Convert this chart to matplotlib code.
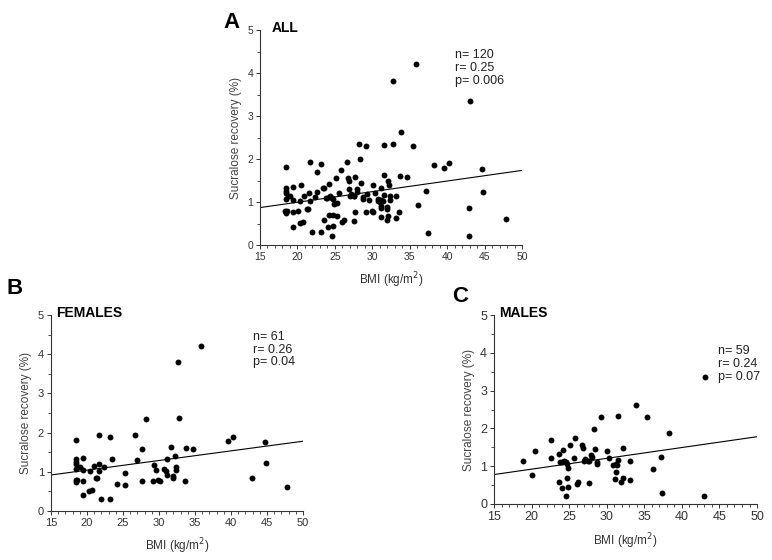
import matplotlib
matplotlib.use("Agg")
import matplotlib.pyplot as plt
from matplotlib.ticker import MultipleLocator
import numpy as np

plt.rcParams["font.family"] = ["Liberation Sans", "DejaVu Sans"]

# Femmes: BMI (kg/m2) et récupération du sucralose (%)
bmi_f = [18.5, 18.5, 18.5, 18.5, 18.5, 18.4, 18.5, 18.6, 19.0, 19.4,
         19.4, 19.4, 19.4, 20.4, 20.3, 20.7, 20.9, 21.3, 21.4, 21.6,
         21.7, 21.7, 21.9, 22.3, 23.2, 23.2, 23.4, 24.2, 25.3, 25.3,
         26.6, 26.9, 27.7, 27.7, 28.2, 29.2, 29.3, 29.6, 29.9, 30.1,
         30.7, 31.0, 31.1, 31.1, 31.6, 31.9, 32.0, 32.2, 32.4, 32.3,
         32.8, 33.7, 33.6, 34.7, 39.6, 40.3, 42.9, 44.7, 44.8, 47.8,
         32.7, 35.9]
suc_f = [1.81, 1.32, 1.26, 1.20, 1.07, 0.79, 0.75, 0.80, 1.13, 1.05,
         1.34, 0.77, 0.41, 1.03, 0.52, 0.54, 1.15, 0.84, 0.83, 1.20,
         1.94, 1.02, 0.31, 1.11, 1.89, 0.31, 1.32, 0.70, 0.97, 0.67,
         1.93, 1.30, 1.59, 0.76, 2.34, 0.76, 1.18, 1.05, 0.79, 0.77,
         1.06, 1.01, 0.91, 1.33, 1.62, 0.83, 0.89, 1.40, 1.13, 1.05,
         2.36, 1.61, 0.77, 1.57, 1.78, 1.90, 0.85, 1.77, 1.23, 0.60,
         3.81, 4.21]

# Hommes
bmi_m = [18.8, 20.1, 20.5, 22.6, 22.6, 23.6, 23.6, 23.8, 24.1, 24.2,
         24.3, 24.6, 24.7, 24.7, 24.8, 24.6, 24.9, 25.1, 25.6, 25.8,
         26.0, 26.2, 26.7, 26.9, 27.0, 27.1, 27.6, 27.6, 27.9, 28.0,
         28.3, 28.5, 28.7, 28.7, 29.2, 30.1, 30.3, 30.8, 31.2, 31.1,
         31.2, 31.5, 31.5, 31.9, 32.1, 32.1, 33.1, 33.1, 33.9, 35.4,
         36.1, 37.2, 37.4, 38.3, 42.9, 43.1, 24.0, 27.5, 31.4]
suc_m = [1.14, 0.78, 1.40, 1.70, 1.23, 1.33, 0.57, 1.10, 0.43, 1.43,
         1.13, 1.10, 1.07, 0.70, 0.44, 0.20, 0.95, 1.55, 1.22, 1.75,
         0.53, 0.57, 1.56, 1.48, 1.14, 1.18, 0.56, 1.14, 1.30, 1.24,
         1.99, 1.45, 1.11, 1.07, 2.30, 1.40, 1.22, 1.02, 1.05, 0.65,
         0.85, 2.33, 1.17, 0.59, 0.68, 1.48, 0.63, 1.15, 2.62, 2.30,
         0.92, 1.25, 0.29, 1.87, 0.20, 3.36, 1.10, 1.15, 1.02]

# Droites de régression (ordonnée à l'origine, pente)
fit_all = (0.50, 0.0247)
fit_f = (0.55, 0.0246)
fit_m = (0.35, 0.0286)

stats_all = "n= 120\nr= 0.25\np= 0.006"
stats_f = "n= 61\nr= 0.26\np= 0.04"
stats_m = "n= 59\nr= 0.24\np= 0.07"

fig = plt.figure(figsize=(7.72, 5.60), dpi=100)


def draw_panel(rect, x, y, fit, title, title_x, stats, stats_pos, ticksize):
    ax = fig.add_axes(rect)
    ax.scatter(x, y, s=18, color="black", linewidths=0, zorder=3)
    xs = np.array([15, 50])
    ax.plot(xs, fit[0] + fit[1] * xs, color="black", lw=0.8)
    ax.set_xlim(15, 50)
    ax.set_ylim(0, 5)
    ax.xaxis.set_major_locator(MultipleLocator(5))
    ax.xaxis.set_minor_locator(MultipleLocator(1))
    ax.yaxis.set_major_locator(MultipleLocator(1))
    ax.yaxis.set_minor_locator(MultipleLocator(0.5))
    for side in ("top", "right"):
        ax.spines[side].set_visible(False)
    for side in ("left", "bottom"):
        ax.spines[side].set_linewidth(0.8)
        ax.spines[side].set_color("#333333")
    ax.tick_params(which="major", length=3, width=0.7, colors="#333333",
                   labelsize=ticksize, pad=2)
    ax.tick_params(which="minor", length=2, width=0.6, colors="#333333")
    ax.set_xlabel("BMI (kg/m$^2$)", fontsize=8.5, color="#333333", labelpad=6)
    ax.set_ylabel("Sucralose recovery (%)", fontsize=8.5, color="#444444",
                  labelpad=4)
    ax.text(title_x, 1.01, title, transform=ax.transAxes, fontsize=10,
            fontweight="bold", va="center", ha="left")
    ax.text(stats_pos[0], stats_pos[1], stats, transform=ax.transAxes,
            fontsize=9, va="top", ha="left", linespacing=1.1, color="#222222")
    return ax


draw_panel([0.3368, 0.5625, 0.3394, 0.3839], bmi_f + bmi_m, suc_f + suc_m,
           fit_all, "ALL", 0.045, stats_all, (0.745, 0.91), 7.5)
draw_panel([0.0661, 0.0875, 0.3264, 0.35], bmi_f, suc_f,
           fit_f, "FEMALES", 0.02, stats_f, (0.80, 0.92), 8)
draw_panel([0.6399, 0.10, 0.3407, 0.3375], bmi_m, suc_m,
           fit_m, "MALES", 0.02, stats_m, (0.85, 0.84), 9)

fig.text(232 / 772, 1 - 23 / 560, "A", fontsize=16, fontweight="bold",
         ha="center", va="center")
fig.text(15 / 772, 1 - 288 / 560, "B", fontsize=16, fontweight="bold",
         ha="center", va="center")
fig.text(460 / 772, 1 - 297 / 560, "C", fontsize=16, fontweight="bold",
         ha="center", va="center")

fig.savefig("out.png", dpi=100)
